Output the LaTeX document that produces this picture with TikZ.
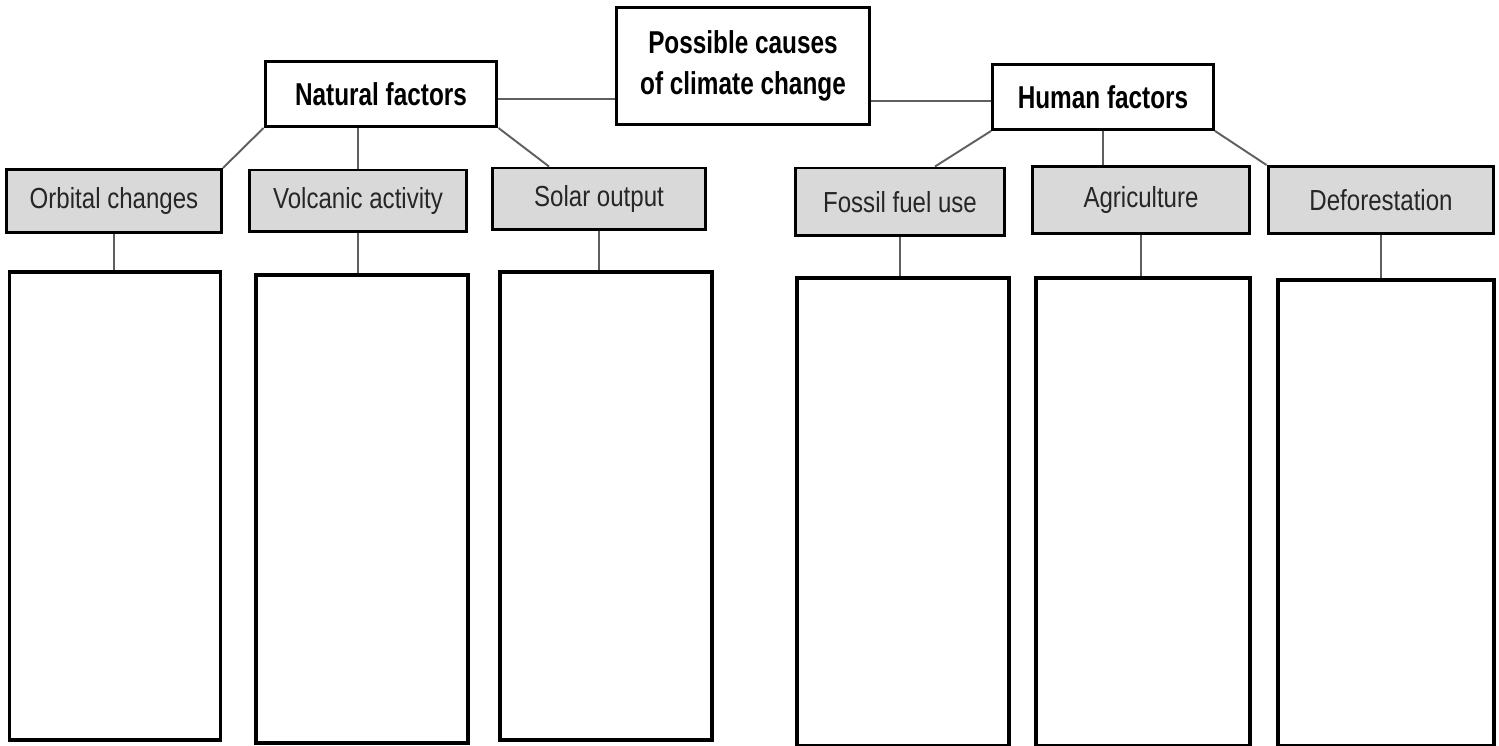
\documentclass[tikz,border=0pt]{standalone}
\usepackage{fontspec}
\setmainfont{Liberation Sans}[FakeStretch=0.83,BoldFeatures={FakeStretch=0.77}]
\usetikzlibrary{positioning}
\definecolor{boxgray}{RGB}{217,217,217}
\definecolor{linegray}{RGB}{95,95,95}

\begin{document}
\begin{tikzpicture}[x=0.02cm,y=-0.02cm,
  topbox/.style={draw,line width=1.7pt,fill=white,font=\bfseries\fontsize{18}{23}\selectfont,align=center,inner sep=0pt},
  causebox/.style={draw,line width=1.7pt,fill=boxgray,text=black!85,font=\fontsize{16.5}{19}\selectfont,inner sep=0pt},
  answerbox/.style={draw,line width=1.9pt,inner sep=0pt,minimum height=9.36cm},
  link/.style={draw=linegray,line width=1.1pt}]
\useasboundingbox (0,0) rectangle (1499,746);

\node[topbox,minimum width=5.06cm,minimum height=2.34cm] (main) at (743,66) {Possible causes\\of climate change};
\node[topbox,minimum width=4.64cm,minimum height=1.3cm] (nat) at (381,94) {Natural factors};
\node[topbox,minimum width=4.42cm,minimum height=1.3cm] (hum) at (1103,97) {Human factors};

\node[causebox,minimum width=4.3cm,minimum height=1.26cm] (orb) at (114,201) {Orbital changes};
\node[causebox,minimum width=4.36cm,minimum height=1.24cm] (vol) at (358,201) {Volcanic activity};
\node[causebox,minimum width=4.26cm,minimum height=1.24cm] (sol) at (599,199) {Solar output};
\node[causebox,minimum width=4.2cm,minimum height=1.36cm] (fos) at (900,202) {Fossil fuel use};
\node[causebox,minimum width=4.36cm,minimum height=1.34cm] (agr) at (1141,200) {Agriculture};
\node[causebox,minimum width=4.52cm,minimum height=1.34cm] (def) at (1381,200) {Deforestation};

\node[answerbox,minimum width=4.22cm] (orbans) at (115,506) {};
\node[answerbox,minimum width=4.24cm] (volans) at (362,509) {};
\node[answerbox,minimum width=4.24cm] (solans) at (606,506) {};
\node[answerbox,minimum width=4.24cm] (fosans) at (903,512) {};
\node[answerbox,minimum width=4.28cm] (agrans) at (1143,512) {};
\node[answerbox,minimum width=4.32cm,minimum height=9.32cm] (defans) at (1386,513) {};

% top level
\draw[link] ([yshift=-0.1cm]nat.east) -- ([yshift=-0.1cm]nat.east -| main.west);
\draw[link] ([yshift=-0.08cm]hum.west -| main.east) -- ([yshift=-0.08cm]hum.west);

% natural side
\draw[link] (nat.south west) -- (orb.north east);
\draw[link] (vol.north |- nat.south) -- (vol.north);
\draw[link] (nat.south east) -- ([xshift=-1cm]sol.north);

% human side
\draw[link] (hum.south west) -- ([xshift=0.7cm]fos.north);
\draw[link] (hum.south) -- (hum.south |- agr.north);
\draw[link] (hum.south east) -- (def.north west);

% down to the empty boxes
\foreach \c in {orb,vol,sol,fos,agr,def}
  \draw[link] (\c.south) -- (\c.south |- \c ans.north);
\end{tikzpicture}
\end{document}
